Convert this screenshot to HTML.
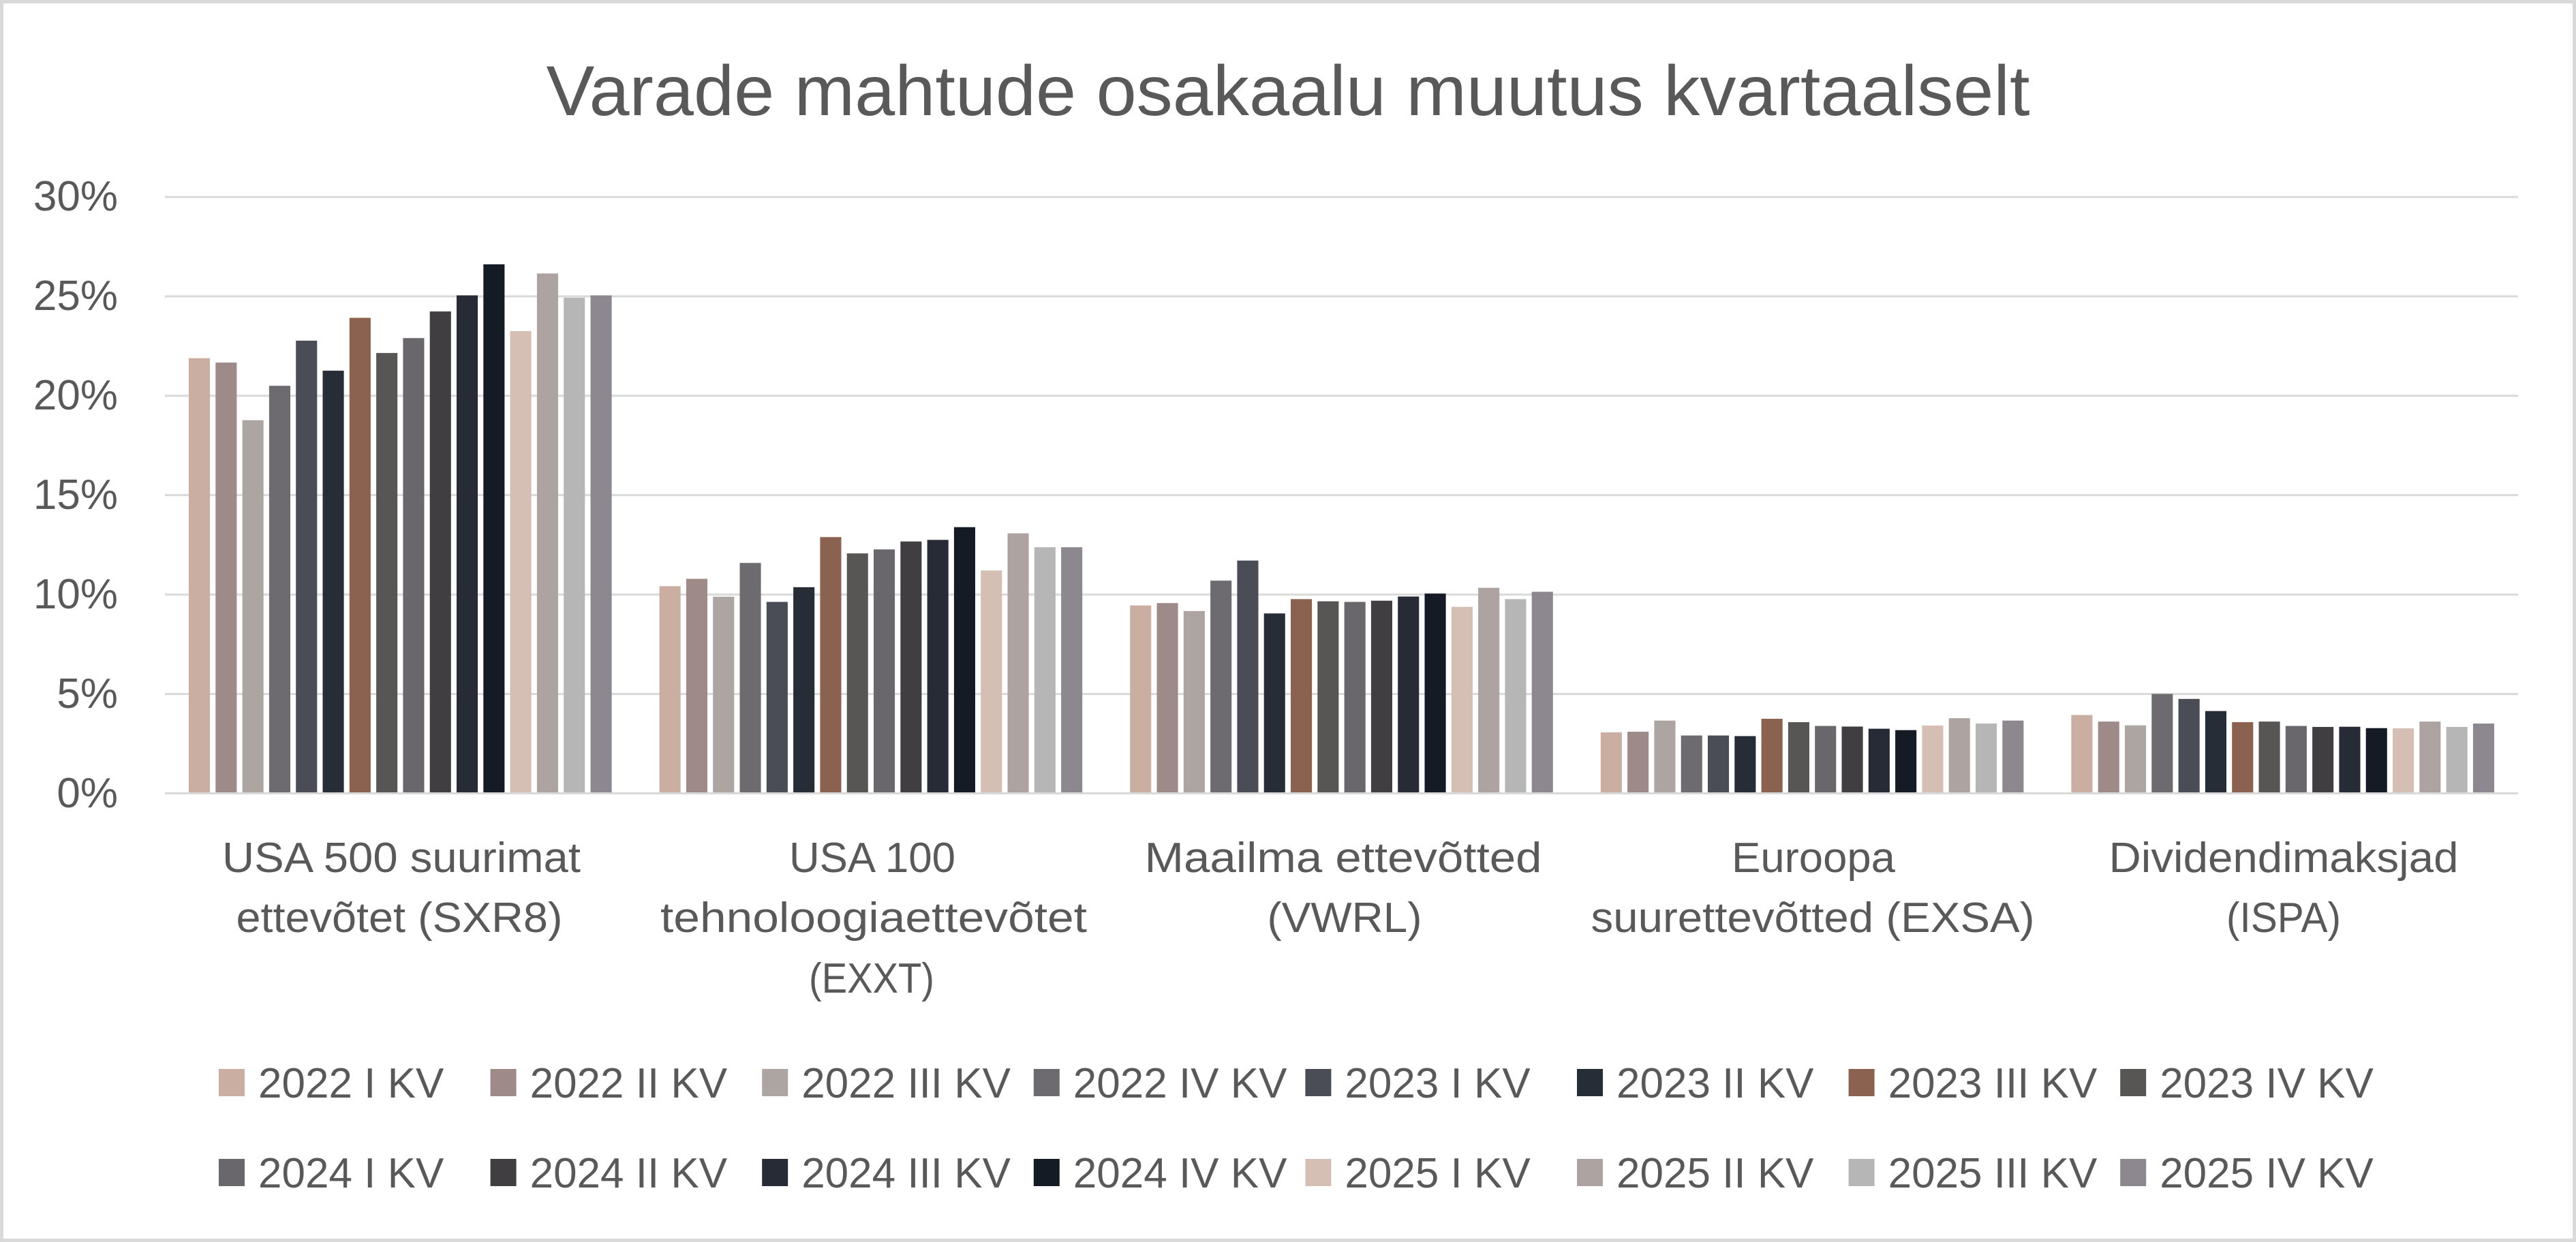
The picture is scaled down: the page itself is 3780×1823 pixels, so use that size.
<!DOCTYPE html>
<html>
<head>
<meta charset="utf-8">
<style>
html,body{margin:0;padding:0;background:#fff;}
svg{display:block;}
text{font-family:"Liberation Sans",Arial,sans-serif;fill:#595959;}
.s0{fill:#C9AEA1}.s1{fill:#9E8B89}.s2{fill:#ADA5A2}.s3{fill:#6D6B6F}
.s4{fill:#4A4D56}.s5{fill:#272D37}.s6{fill:#8B6150}.s7{fill:#575655}
.s8{fill:#69676B}.s9{fill:#403E41}.s10{fill:#262B35}.s11{fill:#151B24}
.s12{fill:#D5BEB3}.s13{fill:#ADA3A1}.s14{fill:#B6B6B6}.s15{fill:#8D8890}
</style>
</head>
<body>
<svg width="3780" height="1823" viewBox="0 0 3780 1823" xmlns="http://www.w3.org/2000/svg">
<rect x="0" y="0" width="3780" height="1823" fill="#ffffff"/>
<rect x="2.5" y="2.5" width="3775" height="1818" fill="none" stroke="#D9D9D9" stroke-width="5"/>

<!-- Title -->
<text x="1890" y="169" font-size="104" text-anchor="middle" textLength="2177" lengthAdjust="spacingAndGlyphs">Varade mahtude osakaalu muutus kvartaalselt</text>

<!-- Gridlines -->
<g stroke="#D9D9D9" stroke-width="3">
<line x1="242" y1="289.1" x2="3695" y2="289.1"/>
<line x1="242" y1="435.0" x2="3695" y2="435.0"/>
<line x1="242" y1="580.9" x2="3695" y2="580.9"/>
<line x1="242" y1="726.8" x2="3695" y2="726.8"/>
<line x1="242" y1="872.7" x2="3695" y2="872.7"/>
<line x1="242" y1="1018.6" x2="3695" y2="1018.6"/>
<line x1="242" y1="1164.5" x2="3695" y2="1164.5"/>
</g>

<!-- Y axis labels -->
<g font-size="62" text-anchor="end">
<text x="173" y="309">30%</text>
<text x="173" y="455">25%</text>
<text x="173" y="601">20%</text>
<text x="173" y="747">15%</text>
<text x="173" y="893">10%</text>
<text x="173" y="1039">5%</text>
<text x="173" y="1185">0%</text>
</g>

<!-- Bars -->
<g transform="translate(0,1163) scale(1,-29.18)">
<g transform="translate(0,0)">
<rect class="s0" x="277.0" y="0" width="31.1" height="21.84"/>
<rect class="s1" x="316.3" y="0" width="31.1" height="21.62"/>
<rect class="s2" x="355.6" y="0" width="31.1" height="18.72"/>
<rect class="s3" x="394.9" y="0" width="31.1" height="20.45"/>
<rect class="s4" x="434.2" y="0" width="31.1" height="22.72"/>
<rect class="s5" x="473.5" y="0" width="31.1" height="21.21"/>
<rect class="s6" x="512.8" y="0" width="31.1" height="23.87"/>
<rect class="s7" x="552.1" y="0" width="31.1" height="22.10"/>
<rect class="s8" x="591.4" y="0" width="31.1" height="22.85"/>
<rect class="s9" x="630.7" y="0" width="31.1" height="24.19"/>
<rect class="s10" x="670.0" y="0" width="31.1" height="25.00"/>
<rect class="s11" x="709.3" y="0" width="31.1" height="26.56"/>
<rect class="s12" x="748.6" y="0" width="31.1" height="23.20"/>
<rect class="s13" x="787.9" y="0" width="31.1" height="26.10"/>
<rect class="s14" x="827.2" y="0" width="31.1" height="24.88"/>
<rect class="s15" x="866.5" y="0" width="31.1" height="25.00"/>
</g>
<g transform="translate(690.6,0)">
<rect class="s0" x="277.0" y="0" width="31.1" height="10.37"/>
<rect class="s1" x="316.3" y="0" width="31.1" height="10.74"/>
<rect class="s2" x="355.6" y="0" width="31.1" height="9.84"/>
<rect class="s3" x="394.9" y="0" width="31.1" height="11.54"/>
<rect class="s4" x="434.2" y="0" width="31.1" height="9.58"/>
<rect class="s5" x="473.5" y="0" width="31.1" height="10.32"/>
<rect class="s6" x="512.8" y="0" width="31.1" height="12.84"/>
<rect class="s7" x="552.1" y="0" width="31.1" height="12.02"/>
<rect class="s8" x="591.4" y="0" width="31.1" height="12.22"/>
<rect class="s9" x="630.7" y="0" width="31.1" height="12.62"/>
<rect class="s10" x="670.0" y="0" width="31.1" height="12.70"/>
<rect class="s11" x="709.3" y="0" width="31.1" height="13.34"/>
<rect class="s12" x="748.6" y="0" width="31.1" height="11.16"/>
<rect class="s13" x="787.9" y="0" width="31.1" height="13.03"/>
<rect class="s14" x="827.2" y="0" width="31.1" height="12.33"/>
<rect class="s15" x="866.5" y="0" width="31.1" height="12.33"/>
</g>
<g transform="translate(1381.2,0)">
<rect class="s0" x="277.0" y="0" width="31.1" height="9.40"/>
<rect class="s1" x="316.3" y="0" width="31.1" height="9.52"/>
<rect class="s2" x="355.6" y="0" width="31.1" height="9.12"/>
<rect class="s3" x="394.9" y="0" width="31.1" height="10.65"/>
<rect class="s4" x="434.2" y="0" width="31.1" height="11.66"/>
<rect class="s5" x="473.5" y="0" width="31.1" height="9.00"/>
<rect class="s6" x="512.8" y="0" width="31.1" height="9.72"/>
<rect class="s7" x="552.1" y="0" width="31.1" height="9.61"/>
<rect class="s8" x="591.4" y="0" width="31.1" height="9.58"/>
<rect class="s9" x="630.7" y="0" width="31.1" height="9.64"/>
<rect class="s10" x="670.0" y="0" width="31.1" height="9.85"/>
<rect class="s11" x="709.3" y="0" width="31.1" height="10.00"/>
<rect class="s12" x="748.6" y="0" width="31.1" height="9.33"/>
<rect class="s13" x="787.9" y="0" width="31.1" height="10.29"/>
<rect class="s14" x="827.2" y="0" width="31.1" height="9.72"/>
<rect class="s15" x="866.5" y="0" width="31.1" height="10.09"/>
</g>
<g transform="translate(2071.8,0)">
<rect class="s0" x="277.0" y="0" width="31.1" height="3.02"/>
<rect class="s1" x="316.3" y="0" width="31.1" height="3.05"/>
<rect class="s2" x="355.6" y="0" width="31.1" height="3.61"/>
<rect class="s3" x="394.9" y="0" width="31.1" height="2.86"/>
<rect class="s4" x="434.2" y="0" width="31.1" height="2.86"/>
<rect class="s5" x="473.5" y="0" width="31.1" height="2.83"/>
<rect class="s6" x="512.8" y="0" width="31.1" height="3.70"/>
<rect class="s7" x="552.1" y="0" width="31.1" height="3.53"/>
<rect class="s8" x="591.4" y="0" width="31.1" height="3.34"/>
<rect class="s9" x="630.7" y="0" width="31.1" height="3.31"/>
<rect class="s10" x="670.0" y="0" width="31.1" height="3.20"/>
<rect class="s11" x="709.3" y="0" width="31.1" height="3.13"/>
<rect class="s12" x="748.6" y="0" width="31.1" height="3.36"/>
<rect class="s13" x="787.9" y="0" width="31.1" height="3.73"/>
<rect class="s14" x="827.2" y="0" width="31.1" height="3.46"/>
<rect class="s15" x="866.5" y="0" width="31.1" height="3.61"/>
</g>
<g transform="translate(2762.4,0)">
<rect class="s0" x="277.0" y="0" width="31.1" height="3.89"/>
<rect class="s1" x="316.3" y="0" width="31.1" height="3.56"/>
<rect class="s2" x="355.6" y="0" width="31.1" height="3.37"/>
<rect class="s3" x="394.9" y="0" width="31.1" height="4.95"/>
<rect class="s4" x="434.2" y="0" width="31.1" height="4.70"/>
<rect class="s5" x="473.5" y="0" width="31.1" height="4.09"/>
<rect class="s6" x="512.8" y="0" width="31.1" height="3.53"/>
<rect class="s7" x="552.1" y="0" width="31.1" height="3.56"/>
<rect class="s8" x="591.4" y="0" width="31.1" height="3.34"/>
<rect class="s9" x="630.7" y="0" width="31.1" height="3.29"/>
<rect class="s10" x="670.0" y="0" width="31.1" height="3.30"/>
<rect class="s11" x="709.3" y="0" width="31.1" height="3.23"/>
<rect class="s12" x="748.6" y="0" width="31.1" height="3.22"/>
<rect class="s13" x="787.9" y="0" width="31.1" height="3.56"/>
<rect class="s14" x="827.2" y="0" width="31.1" height="3.29"/>
<rect class="s15" x="866.5" y="0" width="31.1" height="3.46"/>
</g>
</g>

<!-- Category labels -->
<g font-size="62" text-anchor="middle">
<text x="589" y="1280" textLength="526" lengthAdjust="spacingAndGlyphs">USA 500 suurimat</text>
<text x="586" y="1368" textLength="479" lengthAdjust="spacingAndGlyphs">ettevõtet (SXR8)</text>
<text x="1280" y="1280" textLength="244" lengthAdjust="spacingAndGlyphs">USA 100</text>
<text x="1282" y="1368" textLength="626" lengthAdjust="spacingAndGlyphs">tehnoloogiaettevõtet</text>
<text x="1279" y="1457" textLength="184" lengthAdjust="spacingAndGlyphs">(EXXT)</text>
<text x="1971" y="1280" textLength="583" lengthAdjust="spacingAndGlyphs">Maailma ettevõtted</text>
<text x="1973" y="1368" textLength="227" lengthAdjust="spacingAndGlyphs">(VWRL)</text>
<text x="2661" y="1280" textLength="240" lengthAdjust="spacingAndGlyphs">Euroopa</text>
<text x="2660" y="1368" textLength="651" lengthAdjust="spacingAndGlyphs">suurettevõtted (EXSA)</text>
<text x="3351" y="1280" textLength="513" lengthAdjust="spacingAndGlyphs">Dividendimaksjad</text>
<text x="3351" y="1368" textLength="168" lengthAdjust="spacingAndGlyphs">(ISPA)</text>
</g>

<!-- Legend -->
<g>
<rect class="s0" x="321" y="1569" width="38" height="40"/>
<rect class="s1" x="719.6" y="1569" width="38" height="40"/>
<rect class="s2" x="1118.2" y="1569" width="38" height="40"/>
<rect class="s3" x="1516.8" y="1569" width="38" height="40"/>
<rect class="s4" x="1915.4" y="1569" width="38" height="40"/>
<rect class="s5" x="2314" y="1569" width="38" height="40"/>
<rect class="s6" x="2712.6" y="1569" width="38" height="40"/>
<rect class="s7" x="3111.2" y="1569" width="38" height="40"/>
<rect class="s8" x="321" y="1701" width="38" height="40"/>
<rect class="s9" x="719.6" y="1701" width="38" height="40"/>
<rect class="s10" x="1118.2" y="1701" width="38" height="40"/>
<rect class="s11" x="1516.8" y="1701" width="38" height="40"/>
<rect class="s12" x="1915.4" y="1701" width="38" height="40"/>
<rect class="s13" x="2314" y="1701" width="38" height="40"/>
<rect class="s14" x="2712.6" y="1701" width="38" height="40"/>
<rect class="s15" x="3111.2" y="1701" width="38" height="40"/>
</g>
<g font-size="62">
<text x="379" y="1611">2022 I KV</text>
<text x="777.6" y="1611">2022 II KV</text>
<text x="1176.2" y="1611">2022 III KV</text>
<text x="1574.8" y="1611">2022 IV KV</text>
<text x="1973.4" y="1611">2023 I KV</text>
<text x="2372" y="1611">2023 II KV</text>
<text x="2770.6" y="1611">2023 III KV</text>
<text x="3169.2" y="1611">2023 IV KV</text>
<text x="379" y="1743">2024 I KV</text>
<text x="777.6" y="1743">2024 II KV</text>
<text x="1176.2" y="1743">2024 III KV</text>
<text x="1574.8" y="1743">2024 IV KV</text>
<text x="1973.4" y="1743">2025 I KV</text>
<text x="2372" y="1743">2025 II KV</text>
<text x="2770.6" y="1743">2025 III KV</text>
<text x="3169.2" y="1743">2025 IV KV</text>
</g>
</svg>
</body>
</html>
